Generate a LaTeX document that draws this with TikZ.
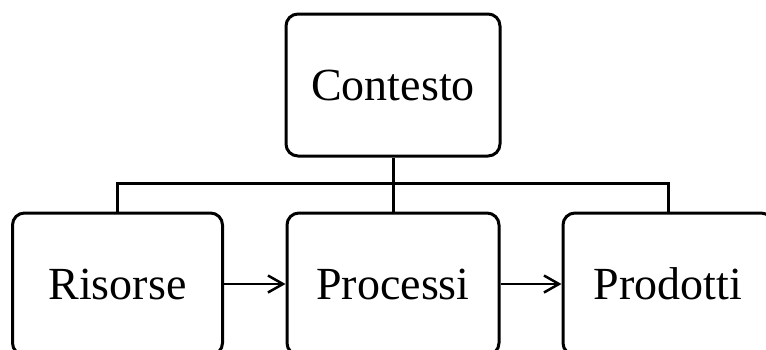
\documentclass[tikz,border=0pt]{standalone}
\usepackage{fontspec}
\setmainfont{Liberation Serif}
\usetikzlibrary{arrows.meta}
\begin{document}
\begin{tikzpicture}[x=1pt,y=-1pt,
  box/.style={draw, line width=3pt, rounded corners=12pt, minimum height=142pt,
    inner sep=0pt, font=\fontsize{46}{50}\selectfont},
  link/.style={line width=3pt},
  flow/.style={line width=2.5pt, -{Straight Barb[length=15pt,width=17pt,line width=2.5pt]}}]
\useasboundingbox (0,0) rectangle (766,349);
\node[box, minimum width=214pt] (contesto) at (393,85) {Contesto};
\node[box, minimum width=210pt] (risorse) at (117.5,284) {Risorse};
\node[box, minimum width=212pt] (processi) at (393,284) {Processi};
\node[box, minimum width=210pt] (prodotti) at (668,284) {Prodotti};
\coordinate (bus) at (393,183);
\draw[link] (contesto.south) -- (processi.north);
\draw[link] (risorse.north) |- (bus) -| (prodotti.north);
\draw[flow] (risorse.east) -- (processi.west);
\draw[flow] (processi.east) -- (prodotti.west);
\end{tikzpicture}
\end{document}
